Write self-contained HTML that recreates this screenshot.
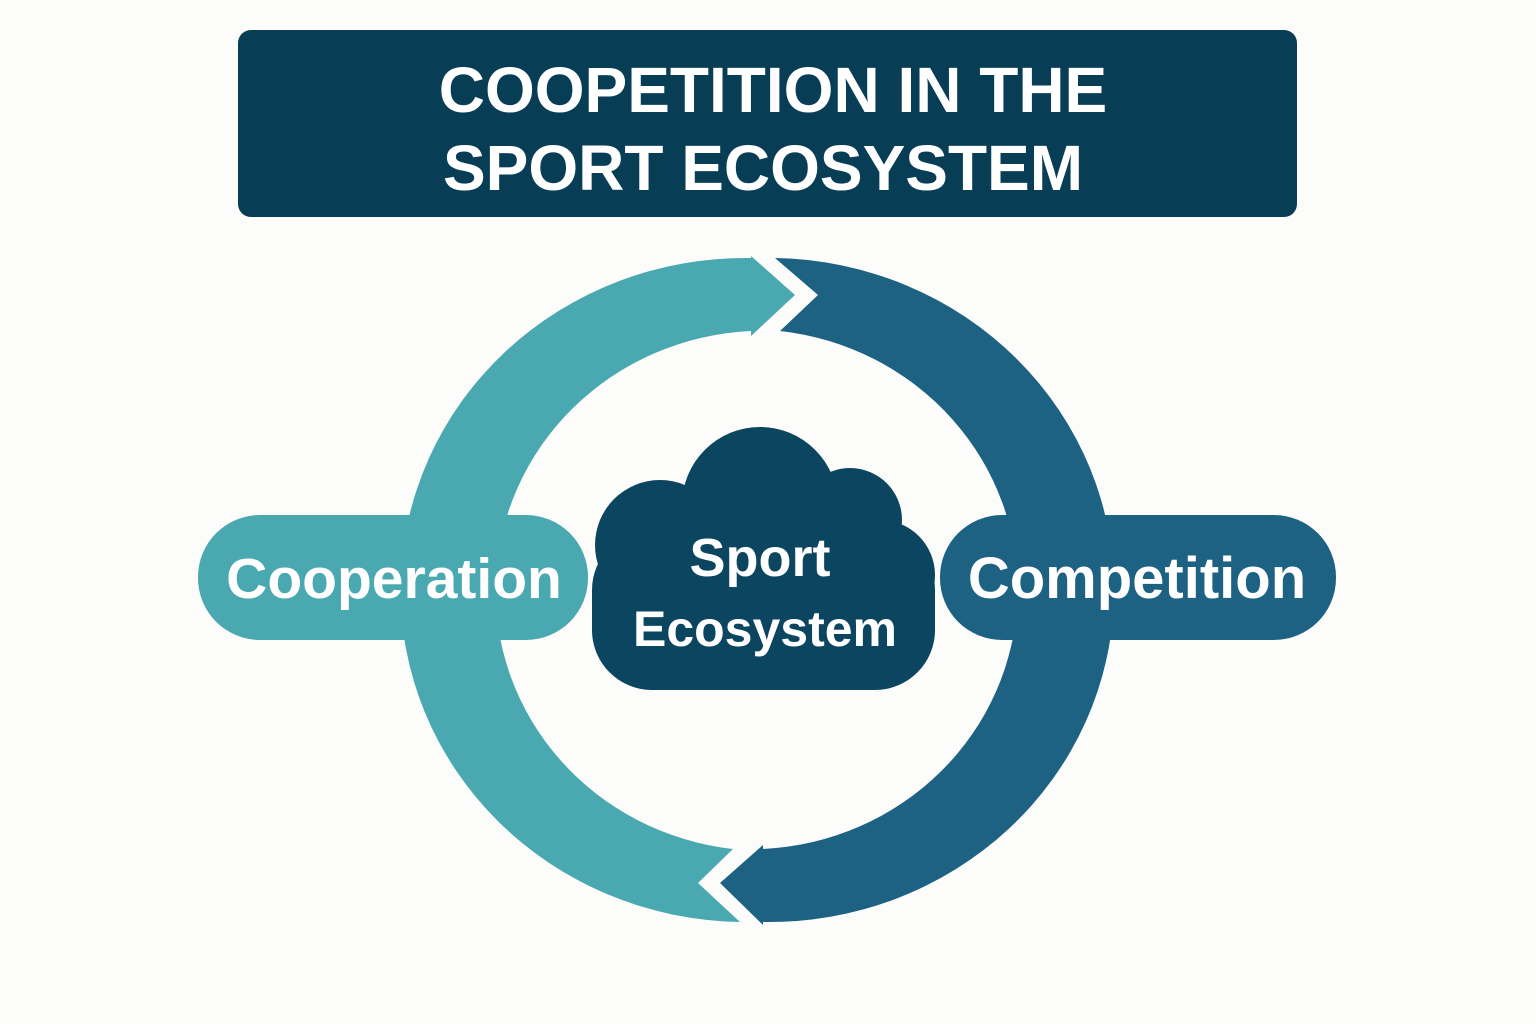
<!DOCTYPE html>
<html><head><style>
body{margin:0;background:#fcfcfb;}
svg{display:block;}
text{font-family:"Liberation Sans",sans-serif;fill:#fff;}
</style></head><body>
<svg width="1536" height="1024" viewBox="0 0 1536 1024">
<rect width="1536" height="1024" fill="#fcfcfb"/>
<rect x="238" y="30" width="1059" height="187" rx="13" fill="#083d56"/>
<text x="773" y="112" font-size="64" font-weight="bold" text-anchor="middle">COOPETITION IN THE</text>
<text x="763" y="190" font-size="64" font-weight="bold" text-anchor="middle">SPORT ECOSYSTEM</text>
<path d="M751 258 A345 332 0 0 0 740 922 L698 883 L733 849 A268 260 0 0 1 751 331 L751 336 L795 295 L751 256 Z" fill="#4aa9b0"/>
<path d="M775 258 A345 332 0 0 1 763 922 L763 925 L720 883 L763 845 L763 849 A268 260 0 0 0 780 331 L818 295 Z" fill="#1d6283"/>
<rect x="198" y="515" width="390" height="125" rx="62" fill="#4aa9b0"/>
<rect x="940" y="515" width="396" height="125" rx="62" fill="#1d6283"/>
<text x="394" y="598" font-size="57" font-weight="bold" text-anchor="middle">Cooperation</text>
<text x="1137" y="598" font-size="58" font-weight="bold" text-anchor="middle">Competition</text>
<g fill="#0b4560">
<circle cx="760" cy="505" r="78"/>
<circle cx="660" cy="545" r="65"/>
<circle cx="850" cy="520" r="52"/>
<circle cx="880" cy="575" r="55"/>
<rect x="592" y="530" width="343" height="160" rx="60"/>
</g>
<text x="760" y="576" font-size="54" font-weight="bold" text-anchor="middle">Sport</text>
<text x="765" y="646" font-size="50" font-weight="bold" text-anchor="middle">Ecosystem</text>
</svg>
</body></html>
